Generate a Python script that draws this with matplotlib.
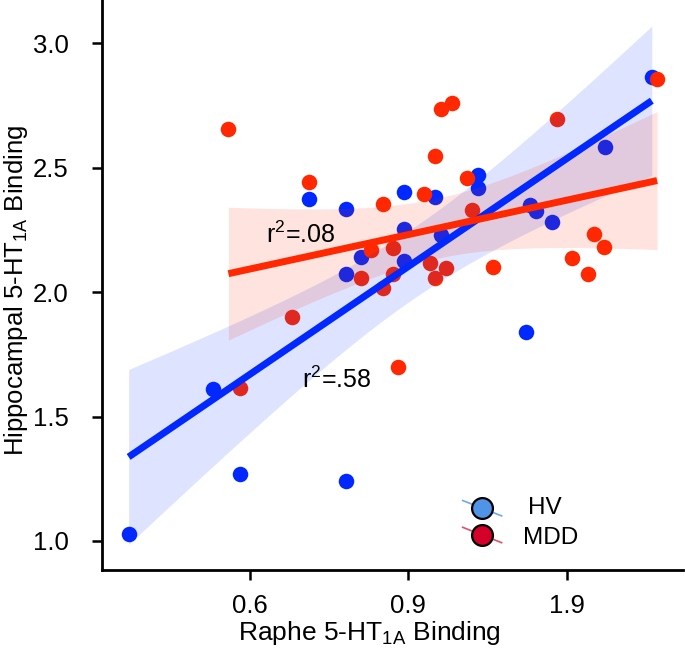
import numpy as np
import matplotlib
matplotlib.use('Agg')
import matplotlib.pyplot as plt

# values (x in axis units; tick at 1.2 is labelled "1.9")
hv_x = [0.370, 0.530, 0.580, 0.711, 0.781, 0.781, 0.781, 0.810, 0.892, 0.892, 0.892,
        0.951, 0.961, 1.032, 1.032, 1.122, 1.131, 1.142, 1.172, 1.272, 1.361]
hv_y = [1.028, 1.609, 1.270, 2.374, 2.336, 2.073, 1.239, 2.142, 2.402, 2.252, 2.127,
        2.381, 2.230, 2.469, 2.419, 1.840, 2.352, 2.324, 2.282, 2.583, 2.866]

mdd_x = [0.559, 0.580, 0.680, 0.711, 0.810, 0.830, 0.851, 0.852, 0.870, 0.870, 0.880,
         0.930, 0.941, 0.951, 0.951, 0.961, 0.971, 0.982, 1.011, 1.021, 1.061, 1.181,
         1.210, 1.241, 1.251, 1.270, 1.371]
mdd_y = [2.654, 1.613, 1.902, 2.442, 2.058, 2.169, 2.354, 2.017, 2.177, 2.073, 1.698,
         2.394, 2.119, 2.549, 2.055, 2.736, 2.097, 2.761, 2.457, 2.332, 2.100, 2.694,
         2.137, 2.072, 2.234, 2.182, 2.858]

xtick_pos = [0.6, 0.9, 1.2]
xtick_labels = ['0.6', '0.9', '1.9']
ytick_pos = [1.0, 1.5, 2.0, 2.5, 3.0]
r2_labels = ['.58', '.08']

plt.rcParams['font.family'] = ['Liberation Sans', 'DejaVu Sans']
plt.rcParams['mathtext.fontset'] = 'custom'
plt.rcParams['mathtext.rm'] = 'Liberation Sans'

blue = '#0028ff'
red = '#ff2800'

fig = plt.figure(figsize=(6.85, 6.5), dpi=100)
ax = fig.add_axes([0.1485, 0.123, 0.997 - 0.1485, 0.877])


def fit_band(x, y, tcrit):
    x = np.asarray(x)
    y = np.asarray(y)
    slope, icpt = np.polyfit(x, y, 1)
    xs = np.linspace(x.min(), x.max(), 100)
    yhat = icpt + slope * xs
    resid = y - (icpt + slope * x)
    n = len(x)
    s = np.sqrt(np.sum(resid ** 2) / (n - 2))
    se = s * np.sqrt(1.0 / n + (xs - x.mean()) ** 2 / np.sum((x - x.mean()) ** 2))
    return xs, yhat, yhat - tcrit * se, yhat + tcrit * se


ax.scatter(hv_x, hv_y, s=125, color=blue, linewidths=0, zorder=1)
ax.scatter(mdd_x, mdd_y, s=125, color=red, linewidths=0, zorder=1)

xs, yh, lo, hi = fit_band(hv_x, hv_y, 2.093)
ax.fill_between(xs, lo, hi, color=blue, alpha=0.13, linewidth=0, zorder=2)
ax.plot(xs, yh, color=blue, lw=5, solid_capstyle='butt', zorder=3)

xs, yh, lo, hi = fit_band(mdd_x, mdd_y, 2.060)
ax.fill_between(xs, lo, hi, color=red, alpha=0.13, linewidth=0, zorder=2)
ax.plot(xs, yh, color=red, lw=5, solid_capstyle='butt', zorder=3)

ax.text(0.698, 1.648, r'r$^{\mathregular{2}}$=' + r2_labels[0], fontsize=18,
        va='center', ha='left', zorder=4)
ax.text(0.630, 2.232, r'r$^{\mathregular{2}}$=' + r2_labels[1], fontsize=18,
        va='center', ha='left', zorder=4)

# legend drawn by hand (tilted line through each marker), axes fractions
leg = [('HV', '#4f94e6', '#6fa8e8', 0.109, 0.733),
       ('MDD', '#d4002a', '#e0506a', 0.062, 0.725)]
for name, fc, lc, yy, tx in leg:
    ax.plot([0.621, 0.688], [yy + 0.013, yy - 0.014], color=lc, lw=1.2,
            transform=ax.transAxes, zorder=5, clip_on=False)
    ax.plot([0.654], [yy], marker='o', ms=15, mfc=fc, mec='black', mew=1.6,
            transform=ax.transAxes, zorder=6, clip_on=False)
    ax.text(tx, yy - 0.006 * (name == 'MDD'), name, transform=ax.transAxes,
            fontsize=17.5, va='center', ha='left')

ax.set_xlim(0.319, 1.420)
ax.set_ylim(0.883, 3.174)
ax.set_xticks(xtick_pos)
ax.set_xticklabels(xtick_labels)
ax.set_yticks(ytick_pos)
ax.set_yticklabels(['%.1f' % v for v in ytick_pos])
ax.tick_params(axis='both', length=7, width=1.8, labelsize=18.5)
ax.tick_params(axis='y', pad=17)
ax.tick_params(axis='x', pad=10)
for side in ['top', 'right']:
    ax.spines[side].set_visible(False)
for side in ['left', 'bottom']:
    ax.spines[side].set_linewidth(2)

ax.set_xlabel(r'Raphe 5-HT$_{\mathregular{1A}}$ Binding', fontsize=19)
ax.xaxis.set_label_coords(0.46, -0.085)
ax.set_ylabel(r'Hippocampal 5-HT$_{\mathregular{1A}}$ Binding', fontsize=18.5)
ax.yaxis.set_label_coords(-0.123, 0.49)

fig.savefig('out.png', dpi=100)
